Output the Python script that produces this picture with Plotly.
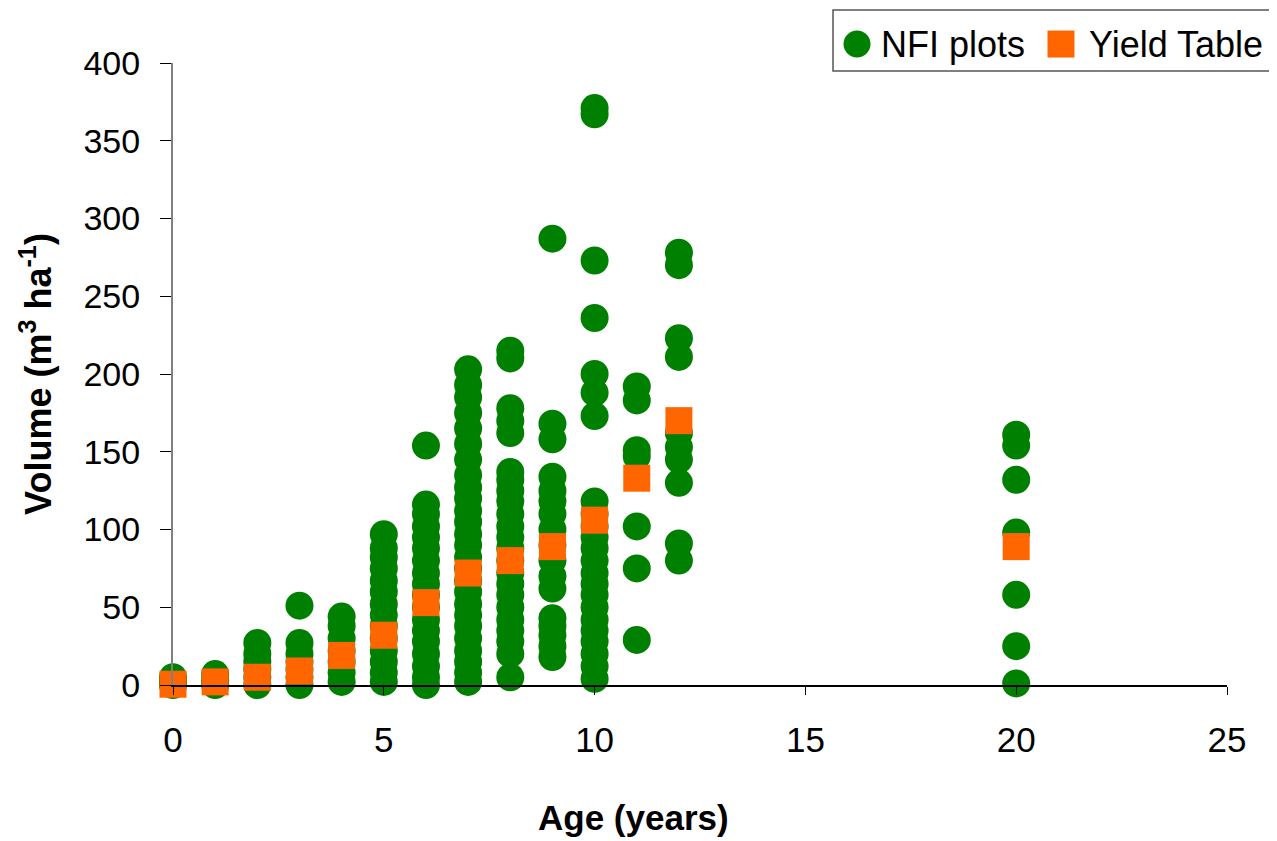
import plotly.graph_objects as go

# NFI plot observations: age (years) -> volume (m3/ha)
nfi_age0 = [0, 2, 5]
nfi_age1 = [0, 3, 7]
nfi_age2 = [0, 5, 10, 15, 20, 27]
nfi_age3 = [0, 5, 10, 15, 20, 27, 51]
nfi_age4 = [2, 8, 15, 22, 30, 38, 44]
nfi_age5 = [2, 8, 15, 22, 30, 38, 45, 52, 60, 67, 75, 82, 88, 97]
nfi_age6 = [0, 5, 12, 20, 28, 35, 42, 50, 58, 65, 72, 80, 88, 95, 102, 110, 116, 154]
nfi_age7 = [2, 8, 15, 22, 30, 38, 45, 52, 60, 67, 75, 82, 90, 97, 105, 112, 120,
            127, 135, 145, 155, 165, 175, 185, 193, 203]
nfi_age8 = [5, 20, 28, 35, 42, 50, 58, 65, 72, 80, 88, 95, 102, 110, 118, 125, 132,
            137, 162, 170, 178, 210, 215]
nfi_age9 = [18, 25, 32, 38, 43, 62, 70, 80, 90, 100, 110, 118, 125, 134, 158, 168, 287]
nfi_age10 = [4, 12, 20, 28, 35, 42, 50, 58, 65, 72, 80, 88, 95, 102, 110, 118,
             173, 188, 200, 236, 273, 367, 371]
nfi_age11 = [29, 75, 102, 147, 151, 183, 192]
nfi_age12 = [80, 91, 130, 145, 153, 162, 211, 223, 270, 278]
nfi_age20 = [1, 25, 58, 98, 132, 154, 161]

nfi_groups = {0: nfi_age0, 1: nfi_age1, 2: nfi_age2, 3: nfi_age3, 4: nfi_age4,
              5: nfi_age5, 6: nfi_age6, 7: nfi_age7, 8: nfi_age8, 9: nfi_age9,
              10: nfi_age10, 11: nfi_age11, 12: nfi_age12, 20: nfi_age20}

# Yield table
yt_age = [0, 1, 2, 3, 4, 5, 6, 7, 8, 9, 10, 11, 12, 20]
yt_vol = [0.5, 2, 5, 9, 19, 32, 53, 72, 80, 89, 106, 133, 170, 89]

x_ticks = [0, 5, 10, 15, 20, 25]
y_ticks = [0, 50, 100, 150, 200, 250, 300, 350, 400]

series_names = ["NFI plots", "Yield Table"]
series_colors = ["#008000", "#FF6600"]

nfi_x, nfi_y = [], []
for age, vols in nfi_groups.items():
    nfi_x += [age] * len(vols)
    nfi_y += vols

fig = go.Figure()
fig.add_trace(go.Scatter(
    x=nfi_x, y=nfi_y, mode="markers", name=series_names[0], showlegend=False,
    marker=dict(symbol="circle", size=28, color=series_colors[0], line=dict(width=0)),
    cliponaxis=False))
fig.add_trace(go.Scatter(
    x=yt_age, y=yt_vol, mode="markers", name=series_names[1], showlegend=False,
    marker=dict(symbol="square", size=27, color=series_colors[1], line=dict(width=0)),
    cliponaxis=False))

font_family = "Liberation Sans, Arial, sans-serif"

# Manual legend (large symbols like the original)
leg_y = 1.0305
shapes = [
    dict(type="rect", xref="paper", yref="paper", x0=0.6262, x1=1.07, y0=0.9871, y1=1.0852,
         line=dict(color="#555555", width=1.5), fillcolor="white", layer="above"),
    dict(type="circle", xref="paper", yref="paper", xsizemode="pixel", ysizemode="pixel",
         xanchor=(849 - 165) / 1054, yanchor=leg_y, x0=-13.5, x1=13.5, y0=-13.5, y1=13.5,
         fillcolor=series_colors[0], line=dict(width=0), layer="above"),
    dict(type="rect", xref="paper", yref="paper", xsizemode="pixel", ysizemode="pixel",
         xanchor=(1053 - 165) / 1054, yanchor=leg_y, x0=-13.5, x1=13.5, y0=-13.5, y1=13.5,
         fillcolor=series_colors[1], line=dict(width=0), layer="above"),
]
annotations = [
    dict(text=series_names[0], xref="paper", yref="paper", x=(871 - 165) / 1054, y=leg_y,
         xanchor="left", yanchor="middle", showarrow=False, font=dict(size=36)),
    dict(text=series_names[1], xref="paper", yref="paper", x=(1079 - 165) / 1054, y=leg_y,
         xanchor="left", yanchor="middle", showarrow=False, font=dict(size=36)),
    dict(text="<b>Age (years)</b>", xref="paper", yref="paper", x=(625 - 165) / 1054,
         y=(677 - 809) / 622, xanchor="center", yanchor="middle", showarrow=False,
         font=dict(size=35)),
]

fig.update_layout(
    width=1277, height=841,
    margin=dict(l=165, r=58, t=55, b=164),
    paper_bgcolor="white", plot_bgcolor="white",
    font=dict(family=font_family, size=35, color="black"),
    showlegend=False,
    shapes=shapes, annotations=annotations,
    xaxis=dict(range=[0, 25], tickvals=x_ticks, showgrid=False, zeroline=False,
               showline=True, linecolor="black", linewidth=1.5,
               ticks="outside", ticklen=8, tickcolor="black",
               ticklabelstandoff=15, tickfont=dict(size=35)),
    yaxis=dict(range=[0, 400], tickvals=y_ticks, showgrid=False, zeroline=False,
               showline=True, linecolor="#808080", linewidth=2,
               ticks="outside", ticklen=11, tickcolor="black",
               ticklabelstandoff=13, tickfont=dict(size=34),
               title=dict(text="<b>Volume (m<sup>3</sup> ha<sup>-1</sup>)</b>",
                          font=dict(size=36), standoff=21)),
)

fig.write_html("out.html")
